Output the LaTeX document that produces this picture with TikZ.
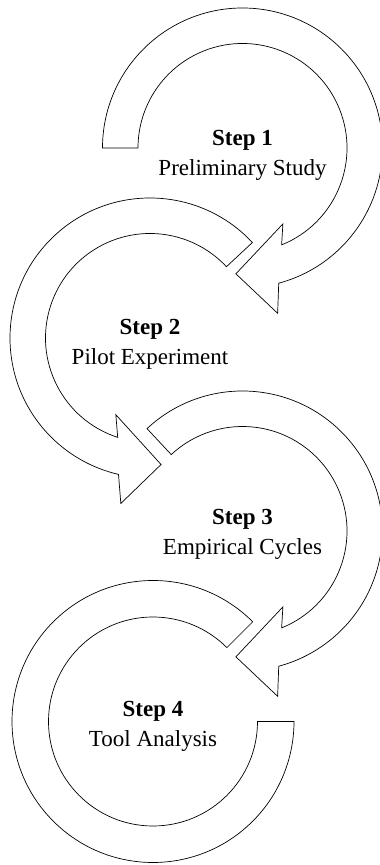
\documentclass[tikz,border=0pt]{standalone}
\usepackage{fontspec}
\setmainfont{Liberation Serif}

\tikzset{
  ring/.style={draw, line width=0.7pt, line join=miter, fill=white},
  steptext/.style={align=center, font=\fontsize{23}{30}\selectfont},
}

\begin{document}
\begin{tikzpicture}[x=1pt, y=1pt]
        \useasboundingbox (0,0) rectangle (380,865);

        \coordinate (c1) at (242.5,717);
        \coordinate (c2) at (150,527);
        \coordinate (c3) at (242.5,334);
        \coordinate (c4) at (153,143.5);

        \draw[ring] ([shift={(180:104.5)}]c1) -- ([shift={(180:140)}]c1)
            arc[start angle=180, end angle=-75, radius=140]
            -- ([shift={(-78:169)}]c1) -- ([shift={(-93:126)}]c1) -- ([shift={(-62:86)}]c1)
            -- ([shift={(-68:104.5)}]c1) arc[start angle=-68, end angle=180, radius=104.5] -- cycle;

        \draw[ring] ([shift={(43:104.5)}]c2) -- ([shift={(43:140)}]c2)
            arc[start angle=43, end angle=257, radius=140]
            -- ([shift={(260:168)}]c2) -- ([shift={(275:127)}]c2) -- ([shift={(246:84)}]c2)
            -- ([shift={(252:104.5)}]c2) arc[start angle=252, end angle=43, radius=104.5] -- cycle;

        \draw[ring] ([shift={(133:104.5)}]c3) -- ([shift={(133:140)}]c3)
            arc[start angle=133, end angle=-75, radius=140]
            -- ([shift={(-78:169)}]c3) -- ([shift={(-93:126)}]c3) -- ([shift={(-62:86)}]c3)
            -- ([shift={(-68:104.5)}]c3) arc[start angle=-68, end angle=133, radius=104.5] -- cycle;

        \draw[ring] ([shift={(45:104.5)}]c4) -- ([shift={(45:141)}]c4)
            arc[start angle=45, end angle=360, radius=141]
            -- ([shift={(0:104.5)}]c4) arc[start angle=360, end angle=45, radius=104.5] -- cycle;

        \node[steptext] (s1) at ([yshift=-7]c1) {\textbf{Step 1}\\Preliminary Study};
        \node[steptext] (s2) at ([yshift=-6]c2) {\textbf{Step 2}\\Pilot Experiment};
        \node[steptext] (s3) at ([yshift=-3]c3) {\textbf{Step 3}\\Empirical Cycles};
        \node[steptext] (s4) at ([yshift=-5]c4) {\textbf{Step 4}\\Tool Analysis};
\end{tikzpicture}
\end{document}
